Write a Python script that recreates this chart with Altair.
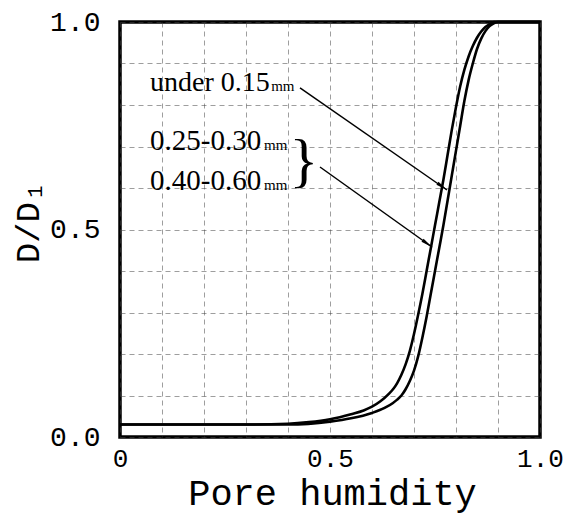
import math
import altair as alt
import pandas as pd

# ---- data ----
hum_a = [0.0, 0.30, 0.40, 0.45, 0.50, 0.55, 0.58, 0.60, 0.62, 0.64, 0.65, 0.66, 0.67,
         0.68, 0.69, 0.70, 0.71, 0.72, 0.73, 0.74, 0.75, 0.76, 0.77, 0.78, 0.79,
         0.80, 0.81, 0.82, 0.83, 0.84, 0.85, 0.86, 0.87, 0.88, 0.89, 1.0]
d_a = [0.030, 0.030, 0.032, 0.036, 0.043, 0.055, 0.064, 0.073, 0.086, 0.104, 0.115, 0.130, 0.150,
       0.175, 0.207, 0.248, 0.295, 0.345, 0.400, 0.455, 0.510, 0.565, 0.620, 0.680, 0.740,
       0.795, 0.845, 0.885, 0.917, 0.942, 0.962, 0.977, 0.988, 0.995, 1.0, 1.0]

hum_b = [0.0, 0.40, 0.50, 0.55, 0.60, 0.63, 0.65, 0.66, 0.67, 0.68, 0.69,
         0.70, 0.71, 0.72, 0.73, 0.74, 0.75, 0.76, 0.77, 0.78, 0.79, 0.80,
         0.81, 0.82, 0.83, 0.84, 0.85, 0.86, 0.87, 0.88, 0.89, 0.90, 1.0]
d_b = [0.030, 0.030, 0.037, 0.045, 0.058, 0.070, 0.082, 0.090, 0.100, 0.115, 0.135,
       0.160, 0.195, 0.240, 0.290, 0.345, 0.400, 0.455, 0.510, 0.570, 0.630, 0.690,
       0.750, 0.810, 0.860, 0.900, 0.935, 0.960, 0.978, 0.990, 0.997, 1.0, 1.0]

series_names = ["under 0.15mm", "0.25-0.60mm"]

tick_values = [0.0, 0.1, 0.2, 0.3, 0.4, 0.5, 0.6, 0.7, 0.8, 0.9, 1.0]

# annotation labels
label_text = ["under 0.15", "0.25-0.30", "0.40-0.60"]
label_x = [0.0714, 0.0714, 0.0714]
label_y = [0.834, 0.692, 0.595]
label_fs = [28, 29, 29]
unit_x = [0.360, 0.343, 0.343]
brace_x = [0.438]
brace_y = [0.663]

# arrows (start -> end)
arrow_x1 = [0.4286, 0.4762]
arrow_y1 = [0.8410, 0.6506]
arrow_x2 = [0.7786, 0.7429]
arrow_y2 = [0.5952, 0.4578]

W, H = 420, 415

curves = pd.DataFrame({
    "h": hum_a + hum_b,
    "d": d_a + d_b,
    "s": [series_names[0]] * len(hum_a) + [series_names[1]] * len(hum_b),
})

labels = pd.DataFrame({"t": label_text, "h": label_x, "d": label_y, "fs": label_fs,
                       "ux": unit_x, "u": ["mm"] * 3})
brace = pd.DataFrame({"h": brace_x, "d": brace_y, "t": ["}"]})
arrows = pd.DataFrame({"h": arrow_x1, "d": arrow_y1, "h2": arrow_x2, "d2": arrow_y2})

# arrowhead centre placed a few pixels back from the arrow end
heads = []
for x1, y1, x2, y2 in zip(arrow_x1, arrow_y1, arrow_x2, arrow_y2):
    dxp = (x2 - x1) * W
    dyp = -(y2 - y1) * H  # screen down positive
    ang = math.degrees(math.atan2(dyp, dxp))
    L = math.hypot(dxp, dyp)
    back = 5.5
    hx = x2 - (dxp / L) * back / W
    hy = y2 + (dyp / L) * back / H
    heads.append({"h": hx, "d": hy, "a": ang})
heads = pd.DataFrame(heads)

xs = alt.Scale(domain=[0, 1], nice=False, zero=False)
ys = alt.Scale(domain=[0, 1], nice=False, zero=False)

x_label_expr = "datum.value == 0 ? '0' : (abs(datum.value - 0.5) < 0.001 ? '0.5' : (abs(datum.value - 1) < 0.001 ? '1.0' : ''))"
y_label_expr = "datum.value == 0 ? '0.0' : (abs(datum.value - 0.5) < 0.001 ? '0.5' : (abs(datum.value - 1) < 0.001 ? '1.0' : ''))"

x_axis = alt.Axis(
    values=tick_values, labelExpr=x_label_expr, title="Pore humidity",
    labelBaseline="top", labelPadding=8, labelAlign="center", labelFlush=False,
    labelOverlap=False, labelFontSize=26, titleFont="Liberation Mono", titleFontSize=37,
    titleFontWeight="normal", titleBaseline="alphabetic", titleAlign="center",
    titleX=212, titleY=67, titleColor="black")
y_axis = alt.Axis(
    values=tick_values, labelExpr=y_label_expr, title="D/D₁",
    labelBaseline="middle", labelPadding=20, labelAlign="right", labelFlush=False,
    labelOverlap=False, titleFont="Liberation Mono", titleFontSize=34,
    titleFontWeight="normal", titleBaseline="alphabetic", titleAlign="center",
    titleAngle=270, titleX=-82, titleY=200, titleColor="black")

X = alt.X("h:Q", scale=xs, axis=x_axis)
Y = alt.Y("d:Q", scale=ys, axis=y_axis)

lines = alt.Chart(curves).mark_line(strokeWidth=2.6, color="black", interpolate="monotone").encode(
    x=X, y=Y, detail="s:N",
)

texts = alt.Chart(labels).mark_text(align="left", baseline="alphabetic", font="Liberation Serif",
                                    color="black").encode(
    x=X, y=Y, text="t:N",
    size=alt.Size("fs:Q", scale=None, legend=None),
)

units = alt.Chart(labels).mark_text(align="left", baseline="alphabetic", font="Liberation Serif",
                                    fontSize=15, color="black").encode(
    x=alt.X("ux:Q", scale=xs, axis=x_axis), y=Y, text="u:N",
)

brace_mark = alt.Chart(brace).mark_text(align="center", baseline="middle", font="Liberation Serif",
                                        fontSize=60, color="black").encode(
    x=X, y=Y, text="t:N",
)

arrow_lines = alt.Chart(arrows).mark_rule(color="black", strokeWidth=1.5).encode(
    x=X, y=Y, x2="h2:Q", y2="d2:Q",
)

arrow_heads = alt.Chart(heads).mark_point(
    shape="M-1,-0.3L1,0L-1,0.3Z", filled=True, color="black", size=150, opacity=1
).encode(
    x=X, y=Y, angle=alt.Angle("a:Q", scale=None),
)

chart = alt.layer(lines, texts, units, brace_mark, arrow_lines, arrow_heads).properties(
    width=W, height=H,
    autosize=alt.AutoSizeParams(type="none"),
    padding={"left": 120, "top": 22, "right": 47, "bottom": 77},
    background="white",
).configure_view(
    stroke="black", strokeWidth=3.5
).configure_axis(
    domain=False, ticks=False, tickSize=0, grid=True,
    gridColor="#444444", gridDash=[5, 4], gridWidth=0.8, gridOpacity=0.65,
    labelFont="Liberation Mono", labelFontSize=28, labelColor="black",
)

chart.save("out.html", embed_options={"renderer": "svg", "actions": False})
